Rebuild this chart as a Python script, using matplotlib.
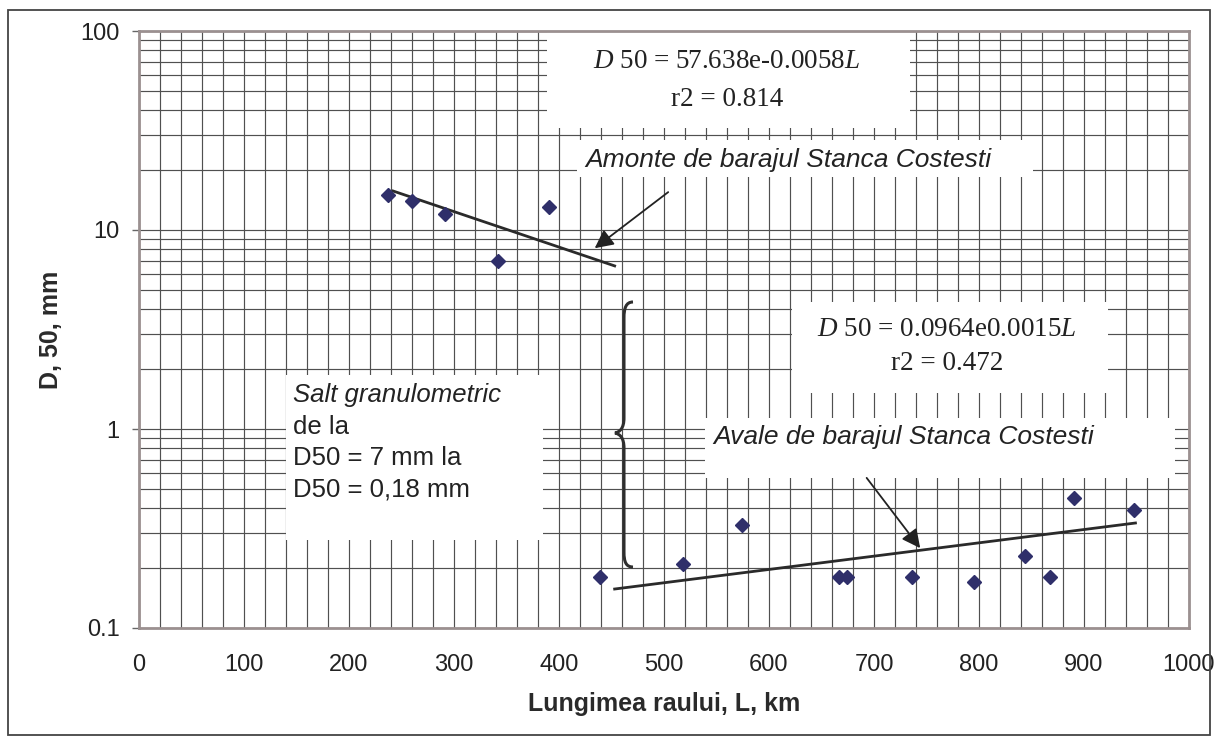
import matplotlib
matplotlib.use("Agg")
import matplotlib.pyplot as plt
import numpy as np
from matplotlib.patches import Rectangle, PathPatch
from matplotlib.path import Path
from matplotlib.ticker import FixedLocator, MultipleLocator, NullFormatter

# data
up_L = [237, 260, 291, 342, 390]
up_D = [15, 14, 12, 7, 13]
down_L = [439, 518, 574, 667, 674, 736, 795, 844, 868, 890, 948]
down_D = [0.18, 0.21, 0.33, 0.18, 0.18, 0.18, 0.17, 0.23, 0.18, 0.45, 0.39]
# trend lines as drawn (end points)
up_trend_L = [242, 453]
up_trend_D = [15.7, 6.6]
down_trend_L = [453, 949]
down_trend_D = [0.157, 0.337]

y_ticks = [0.1, 1, 10, 100]
y_tick_labels = ['0.1', '1', '10', '100']

plt.rcParams['font.family'] = ['Liberation Sans', 'DejaVu Sans']
plt.rcParams['mathtext.fontset'] = 'custom'
plt.rcParams['mathtext.rm'] = 'Liberation Serif'
plt.rcParams['mathtext.it'] = 'Liberation Serif:italic'

W, H = 1218, 744
AX_L, AX_R, AX_T, AX_B = 139, 1189, 31, 628


def px(x, y):
    """reference pixel -> axes fraction"""
    return (x - AX_L) / (AX_R - AX_L), (AX_B - y) / (AX_B - AX_T)


fig = plt.figure(figsize=(W / 100, H / 100), dpi=100)
ax = fig.add_axes([AX_L / W, 1 - AX_B / H, (AX_R - AX_L) / W, (AX_B - AX_T) / H])

ax.set_yscale('log')
ax.set_xlim(0, 1000)
ax.set_ylim(0.1, 100)
ax.xaxis.set_major_locator(MultipleLocator(100))
ax.xaxis.set_minor_locator(MultipleLocator(20))
ax.yaxis.set_major_locator(FixedLocator(y_ticks))
ax.set_yticklabels(y_tick_labels)
ax.yaxis.set_minor_formatter(NullFormatter())
ax.grid(True, which='both', color='#505050', lw=0.85)
ax.set_axisbelow(True)
ax.tick_params(axis='x', which='both', length=0, pad=19, labelsize=17, colors='#222222')
ax.tick_params(axis='y', which='major', length=5, width=1, pad=9, labelsize=17,
               colors='#222222', color='#666666')
ax.tick_params(axis='y', which='minor', length=0)
for s in ax.spines.values():
    s.set_color('#9b9090')
    s.set_linewidth(2)

ax.set_xlabel('Lungimea raului, L, km', fontsize=18, fontweight='bold', color='#2a2a2a',
              va='top')
ax.set_ylabel('D, 50, mm', fontsize=18, fontweight='bold', color='#2a2a2a')
ax.xaxis.set_label_coords(0.5, -0.108)
ax.yaxis.set_label_coords(-0.0724, 0.5)

# white label boxes hiding the grid
boxes = [(547, 31, 910, 128), (577, 140, 1033, 177), (792, 302, 1108, 393),
         (705, 418, 1175, 478), (286, 375, 543, 540)]
for x0, y0, x1, y1 in boxes:
    a0 = px(x0, y1)
    a1 = px(x1, y0)
    ax.add_patch(Rectangle(a0, a1[0] - a0[0], a1[1] - a0[1], transform=ax.transAxes,
                           facecolor='white', edgecolor='none', zorder=1.5))

ax.plot(up_trend_L, up_trend_D, color='#2a2a2a', lw=2, zorder=3)
ax.plot(down_trend_L, down_trend_D, color='#2a2a2a', lw=2, zorder=3)
ax.plot(up_L, up_D, 'D', color='#2f2f6a', ms=7.5, zorder=4)
ax.plot(down_L, down_D, 'D', color='#2f2f6a', ms=7.5, zorder=4)

serif = ['Liberation Serif', 'DejaVu Serif']
eq_size = 19.5
ax.text(*px(727, 62), r'$\mathit{D}$ 50 = 57.638e-0.0058$\mathit{L}$', transform=ax.transAxes,
        ha='center', va='center', fontsize=eq_size, family=serif, color='#222222', zorder=5)
ax.text(*px(727, 100), 'r2 = 0.814', transform=ax.transAxes,
        ha='center', va='center', fontsize=eq_size, family=serif, color='#222222', zorder=5)
ax.text(*px(947, 330), r'$\mathit{D}$ 50 = 0.0964e0.0015$\mathit{L}$', transform=ax.transAxes,
        ha='center', va='center', fontsize=eq_size, family=serif, color='#222222', zorder=5)
ax.text(*px(947, 363), 'r2 = 0.472', transform=ax.transAxes,
        ha='center', va='center', fontsize=eq_size, family=serif, color='#222222', zorder=5)

ax.text(*px(585, 160), 'Amonte de barajul Stanca Costesti', transform=ax.transAxes,
        ha='left', va='center', fontsize=19, style='italic', color='#222222', zorder=5)
ax.text(*px(713, 437), 'Avale de barajul Stanca Costesti', transform=ax.transAxes,
        ha='left', va='center', fontsize=19, style='italic', color='#222222', zorder=5)

salt_lines = ['Salt granulometric', 'de la', 'D50 = 7 mm la', 'D50 = 0,18 mm']
for i, line in enumerate(salt_lines):
    ax.text(*px(293, 395 + 31.5 * i), line, transform=ax.transAxes, ha='left', va='center',
            fontsize=18.5, style='italic' if i == 0 else 'normal', color='#222222', zorder=5)

# arrows pointing at the trend lines
arrow = dict(arrowstyle='-|>', mutation_scale=28, lw=1.3, color='#222222', shrinkA=0, shrinkB=0)
ax.annotate('', xy=(434, 8.1), xytext=(504, 15.5), arrowprops=arrow, zorder=5)
ax.annotate('', xy=(744, 0.252), xytext=(693, 0.568), arrowprops=arrow, zorder=5)

# curly brace for the jump
brace_px = [(633, 302), (626, 302), (624, 308), (624, 318),
            (624, 418),
            (624, 428), (620, 432), (615, 433),
            (620, 434), (624, 438), (624, 448),
            (624, 552),
            (624, 562), (626, 567), (633, 567)]
codes = [Path.MOVETO, Path.CURVE4, Path.CURVE4, Path.CURVE4, Path.LINETO,
         Path.CURVE4, Path.CURVE4, Path.CURVE4, Path.CURVE4, Path.CURVE4, Path.CURVE4,
         Path.LINETO, Path.CURVE4, Path.CURVE4, Path.CURVE4]
brace = Path([px(x, y) for x, y in brace_px], codes)
ax.add_patch(PathPatch(brace, transform=ax.transAxes, facecolor='none',
                       edgecolor='#2e2e2e', lw=2.2, zorder=5))

# outer frame of the chart area
fig.add_artist(Rectangle((8 / W, 1 - 735 / H), 1202 / W, 725 / H, transform=fig.transFigure,
                         facecolor='none', edgecolor='#444444', lw=1.3))

fig.savefig('out.png', dpi=100)
